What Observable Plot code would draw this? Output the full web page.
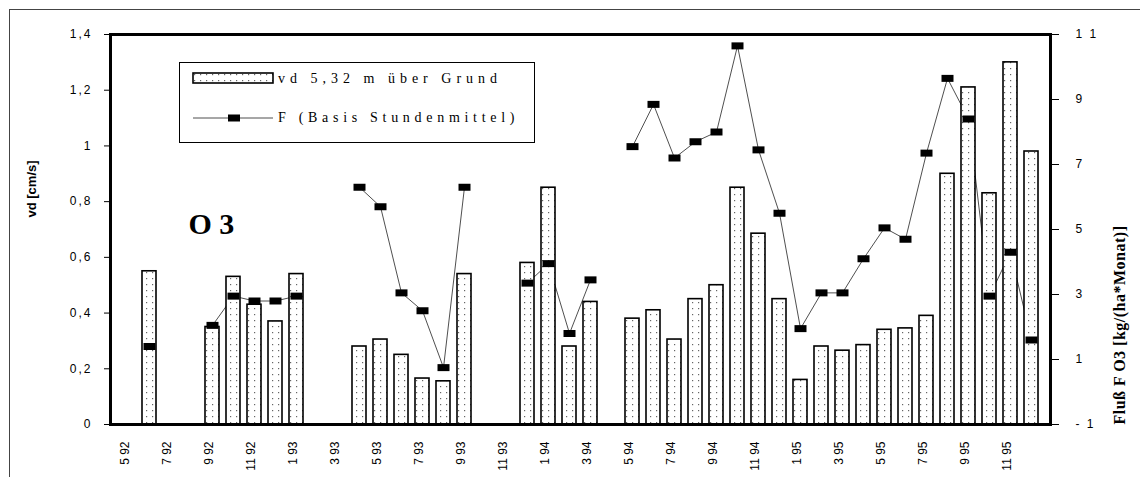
<!DOCTYPE html>
<html><head><meta charset="utf-8">
<script src="https://cdn.jsdelivr.net/npm/d3@7"></script>
<script src="https://cdn.jsdelivr.net/npm/@observablehq/plot@0.6"></script>
<style>
html,body{margin:0;padding:0;background:#fff;}
#chart svg{display:block;}
g[aria-label="y-axis tick label"] text{letter-spacing:2px;}
</style></head><body><div id="chart"></div>
<script>
// Months May 1992 – Dec 1995
const months = ["5 92","6 92","7 92","8 92","9 92","10 92","11 92","12 92",
  "1 93","2 93","3 93","4 93","5 93","6 93","7 93","8 93","9 93","10 93","11 93","12 93",
  "1 94","2 94","3 94","4 94","5 94","6 94","7 94","8 94","9 94","10 94","11 94","12 94",
  "1 95","2 95","3 95","4 95","5 95","6 95","7 95","8 95","9 95","10 95","11 95","12 95"];
// vd 5,32 m über Grund [cm/s]
const vd = [null,0.55,null,null,0.35,0.53,0.43,0.37,
  0.54,null,null,0.28,0.305,0.25,0.165,0.155,0.54,null,null,0.58,
  0.85,0.28,0.44,null,0.38,0.41,0.305,0.45,0.50,0.85,0.685,0.45,
  0.16,0.28,0.265,0.285,0.34,0.345,0.39,0.90,1.21,0.83,1.30,0.98];
// F (Basis Stundenmittel) [kg/(ha*Monat)]
const flux = [null,1.4,null,null,2.05,2.95,2.8,2.8,
  2.95,null,null,6.3,5.7,3.05,2.5,0.75,6.3,null,null,3.35,
  3.95,1.8,3.45,null,7.55,8.85,7.2,7.7,8.0,10.65,7.45,5.5,
  1.95,3.05,3.05,4.1,5.05,4.7,7.35,9.65,8.4,2.95,4.3,1.6];
const xTickMonths = months.filter((m, i) => i % 2 === 0);
const leftTicks = [0,0.2,0.4,0.6,0.8,1,1.2,1.4];
const leftTickLabels = ["0","0,2","0,4","0,6","0,8","1","1,2","1,4"];
const rightTicks = [-1,1,3,5,7,9,11];
const rightTickLabels = ["- 1","1","3","5","7","9","1 1"];
const legendLabels = ["vd 5,32 m über Grund","F (Basis Stundenmittel)"];
const leftTitle = "vd [cm/s]";
const rightTitle = "Fluß F O3 [kg/(ha*Monat)]";
const species = "O 3";

const vdMax = 1.4, fMin = -1, fMax = 11;
const toLeft = f => (f - fMin) / (fMax - fMin) * vdMax;
const rightTickPos = rightTicks.map(toLeft);

const rows = months.map((m, i) => ({month: m, vd: vd[i], f: flux[i] == null ? NaN : toLeft(flux[i])}));
const barRows = rows.filter(d => d.vd != null);
const dotRows = rows.filter(d => !isNaN(d.f));

const markerSymbol = {draw(ctx) { ctx.rect(-6, -3.5, 12, 7); }};

const chart = Plot.plot({
  width: 1140, height: 477,
  marginTop: 34, marginBottom: 53, marginLeft: 110, marginRight: 90,
  style: {fontFamily: "'Liberation Sans', Arial, sans-serif", fontSize: "12px", color: "#000", background: "#fff"},
  x: {type: "band", domain: months, padding: 0.32, label: null, axis: null},
  y: {domain: [0, vdMax], label: null},
  marks: [
    Plot.line(rows, {x: "month", y: "f", stroke: "#222", strokeWidth: 0.8}),
    Plot.barY(barRows, {x: "month", y: "vd", fill: "url(#dots)", stroke: "#000", strokeWidth: 1.6}),
    Plot.dot(dotRows, {x: "month", y: "f", symbol: markerSymbol, fill: "#000", stroke: "none", r: 4}),
    Plot.frame({stroke: "#000", strokeWidth: 3}),
    Plot.axisY({anchor: "left", ticks: leftTicks, tickSize: 6, tickPadding: 12,
      tickFormat: d => leftTickLabels[leftTicks.indexOf(d)], fontSize: 12, label: null}),
    Plot.axisY({anchor: "right", ticks: rightTickPos, tickSize: 8, tickPadding: 17,
      tickFormat: d => rightTickLabels[rightTickPos.indexOf(d)], fontSize: 12, label: null}),
    Plot.text(xTickMonths, {x: d => d, frameAnchor: "bottom", dy: 17, rotate: -90, textAnchor: "end", fontSize: 12}),
    Plot.text([leftTitle], {frameAnchor: "left", dx: -79, dy: -12, rotate: -90, fontSize: 13, fontWeight: "bold",
      fontFamily: "'Liberation Sans', Arial, sans-serif"}),
    Plot.text([rightTitle], {frameAnchor: "right", dx: 69, dy: -4, rotate: -90, fontSize: 16, fontWeight: "bold",
      fontFamily: "'Liberation Serif', 'Times New Roman', serif"}),
    Plot.text([species], {frameAnchor: "top-left", dx: 78, dy: 178, textAnchor: "start", fontSize: 30, fontWeight: "bold",
      fontFamily: "'Liberation Serif', 'Times New Roman', serif"})
  ]
});

const svg = d3.select(chart);
const defs = svg.insert("defs", ":first-child");
const pat = defs.append("pattern").attr("id", "dots").attr("patternUnits", "userSpaceOnUse")
  .attr("width", 6).attr("height", 6);
pat.append("rect").attr("width", 6).attr("height", 6).attr("fill", "#fff");
pat.append("rect").attr("x", 2).attr("y", 2).attr("width", 1.2).attr("height", 1.2).attr("fill", "#666");

// letter spacing of the right-hand title
svg.selectAll("text").filter(function() { return this.textContent === rightTitle; }).attr("letter-spacing", "0.5px");

// outer border (top and left)
svg.append("line").attr("x1", 9).attr("x2", 1140).attr("y1", 9.5).attr("y2", 9.5).attr("stroke", "#444").attr("stroke-width", 1);
svg.append("line").attr("x1", 9.5).attr("x2", 9.5).attr("y1", 9).attr("y2", 477).attr("stroke", "#444").attr("stroke-width", 1);

// legend
const lg = svg.append("g").attr("font-family", "'Liberation Serif', 'Times New Roman', serif")
  .attr("font-size", 14).attr("text-anchor", "start");
lg.append("rect").attr("x", 179.5).attr("y", 62.5).attr("width", 355).attr("height", 80)
  .attr("fill", "#fff").attr("stroke", "#000").attr("stroke-width", 1);
lg.append("rect").attr("x", 193).attr("y", 73).attr("width", 80).attr("height", 10)
  .attr("fill", "url(#dots)").attr("stroke", "#000").attr("stroke-width", 1.6);
lg.append("text").attr("x", 278).attr("y", 83).attr("letter-spacing", "5px").text(legendLabels[0]);
lg.append("line").attr("x1", 193).attr("x2", 273).attr("y1", 118).attr("y2", 118).attr("stroke", "#222").attr("stroke-width", 0.8);
lg.append("rect").attr("x", 228).attr("y", 114.5).attr("width", 12).attr("height", 7).attr("fill", "#000");
lg.append("text").attr("x", 278).attr("y", 122).attr("letter-spacing", "4.7px").text(legendLabels[1]);

document.getElementById("chart").appendChild(chart);
</script>
</body></html>
